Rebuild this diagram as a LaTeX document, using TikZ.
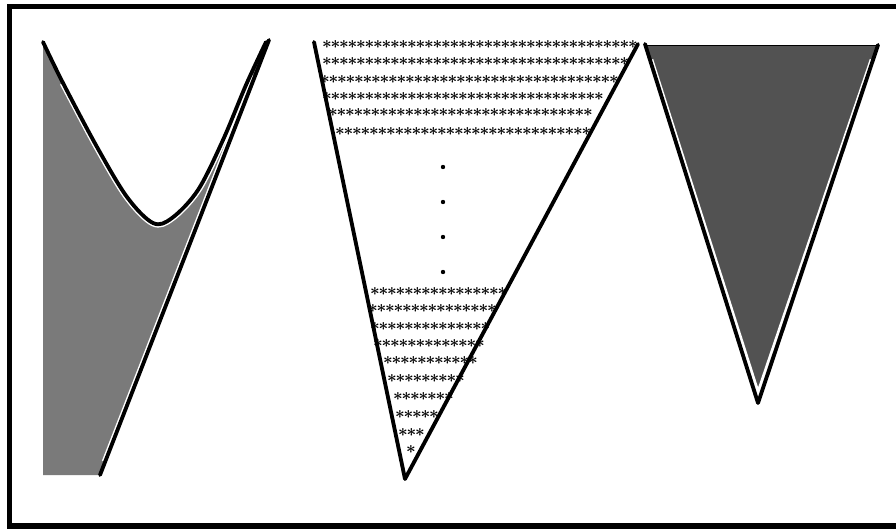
\documentclass[tikz,border=0pt]{standalone}
\usepackage{amsmath}
\usepackage{tikz}
\tikzset{
  frame/.style={draw=black, line width=0.165cm},
  edge/.style={draw=black, line width=0.115cm, line join=round, line cap=round},
  halo/.style={draw=white, line width=0.2cm, line join=round},
  thinedge/.style={draw=black, line width=0.03cm},
  lightfill/.style={fill=black!52},
  darkfill/.style={fill=black!68},
  astk/.style={inner sep=0pt, font=\Large},
  vdot/.style={fill=black},
}

\begin{document}
\begin{tikzpicture}[x=0.03cm, y=-0.03cm]
  \useasboundingbox (0,0) rectangle (896,531);
  \draw[frame] (9.5,6.5) rectangle (910,526);

  % Left region: curve over a line
  \fill[lightfill] (43,50) -- (43,475) -- (100,475) -- (268,44)
    -- plot[smooth, tension=0.55] coordinates {(266,44) (246,85) (223,140) (198,190) (172,218)
       (153,223) (127,197) (97,147) (63,83) (43,44)} -- cycle;
  \draw[halo] plot[smooth, tension=0.55] coordinates {(63,83) (97,147) (127,197)
     (153,223) (172,218) (198,190) (223,140) (246,85)};
  \draw[halo] (105,462) -- (255,76);
  \draw[edge] plot[smooth, tension=0.55] coordinates {(43,42) (63,83) (97,147) (127,197)
     (153,223) (172,218) (198,190) (223,140) (246,85) (266,42)};
  \draw[edge] (100,475) -- (269,40);

  % Middle triangle with rows of stars
  \draw[edge] (314,42) -- (405,479) -- (638,44);
  \foreach \ry/\xa/\cnt in {45/327/37, 62/327/36, 80/325/35, 97/327/33, 113/333/31, 132/340/30, 292/375/16, 309/373/15, 327/375/14, 344/378/13, 361/388/11, 379/392/9, 397/398/7, 415/400/5, 433/403/3, 450/411/1} {
    \foreach \i in {1,...,\cnt} {
      \pgfmathsetmacro\rx{\xa+8.5*(\i-1)}
      \node[astk] (s\ry-\i) at (\rx,\ry) {$\boldsymbol{\ast}$};
    }
  }
  \foreach \ry in {167,202,237,272}
    \fill[vdot] (443,\ry) circle (2.2);

  % Right triangle
  \fill[darkfill] (645,45) -- (878,45) -- (758,403) -- cycle;
  \draw[halo] (650,60) -- (758,398) -- (873,60);
  \draw[thinedge] (645,45) -- (878,45);
  \draw[edge] (645,44) -- (758,403) -- (878,45);
\end{tikzpicture}
\end{document}
